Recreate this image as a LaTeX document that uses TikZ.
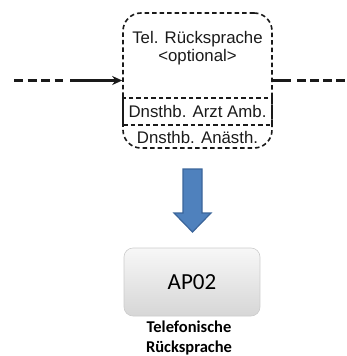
\documentclass[tikz,border=0pt]{standalone}
\usepackage{fontspec}
\setmainfont{Liberation Sans}
\newfontfamily\calibri{Carlito}
\usetikzlibrary{arrows.meta}
\definecolor{lineblack}{HTML}{1A1A1A}
\definecolor{arrowblue}{HTML}{4F81BD}
\definecolor{arrowedge}{HTML}{3B659A}
\tikzset{
  procbox/.style={draw=lineblack, line width=1.6pt, dash pattern=on 4.5pt off 3pt,
    rounded corners=18pt, minimum width=149pt, minimum height=135pt, inner sep=0pt},
  rolebox/.style={draw=lineblack, line width=1.6pt, dash pattern=on 4.5pt off 3pt,
    minimum width=149pt, minimum height=27pt, inner sep=0pt},
  boxtext/.style={font=\fontsize{16.8}{19}\selectfont, text=lineblack, inner sep=0pt},
  flowdash/.style={draw=lineblack, line width=2.2pt, dash pattern=on 9pt off 4.5pt},
  flowsolid/.style={draw=lineblack, line width=2.2pt},
  apbox/.style={rounded corners=9pt, minimum width=136pt, minimum height=68pt,
    top color=gray!6, bottom color=gray!32, draw=gray!40, line width=0.6pt,
    font=\calibri\fontsize{23}{26}\selectfont, text=black},
  aplabel/.style={font=\calibri\bfseries\fontsize{16.5}{20.5}\selectfont, align=center,
    text=black, inner sep=0pt}
}
\begin{document}
\begin{tikzpicture}[x=1pt, y=-1pt]
  \useasboundingbox (0,0) rectangle (347,356);

  % process step with its optional tag and responsible roles
  \node[procbox] (tel) at (197.5,80.5) {};
  \node[rolebox] (arzt) at (197.5,111.5) {};
  \node[boxtext] (title) at (197.5,39) {Tel. Rücksprache};
  \node[boxtext] (opt) at (197.5,57) {<optional>};
  \node[boxtext] (arztlbl) at (197.5,111.5) {Dnsthb. Arzt Amb.};
  \node[boxtext] (anlbl) at (197.5,137) {Dnsthb. Anästh.};

  % incoming and outgoing flow
  \coordinate (la) at (14,80.5);
  \coordinate (lb) at (63,80.5);
  \coordinate (lc) at (70,80.5);
  \draw[flowdash] (la) -- (lb);
  \draw[flowsolid, -{Stealth[length=10pt, width=9pt]}] (lc) -- (tel.west);
  \coordinate (ra) at (291,80.5);
  \coordinate (rb) at (297,80.5);
  \coordinate (rc) at (347,80.5);
  \draw[draw=lineblack, line width=3pt] (tel.east) -- (ra);
  \draw[flowdash, dash pattern=on 8.5pt off 4.5pt] (rb) -- (rc);

  % block arrow down to the work package
  \draw[fill=arrowblue, draw=arrowedge, line width=1.2pt, line join=miter]
    (183,169) -- (202,169) -- (202,213) -- (211,213) -- (192.5,232)
    -- (174,213) -- (183,213) -- cycle;

  % work package
  \node[apbox] (ap) at (192,282) {AP02};
  \node[aplabel] (aptext) at (189,338) {Telefonische\\Rücksprache};
\end{tikzpicture}
\end{document}
